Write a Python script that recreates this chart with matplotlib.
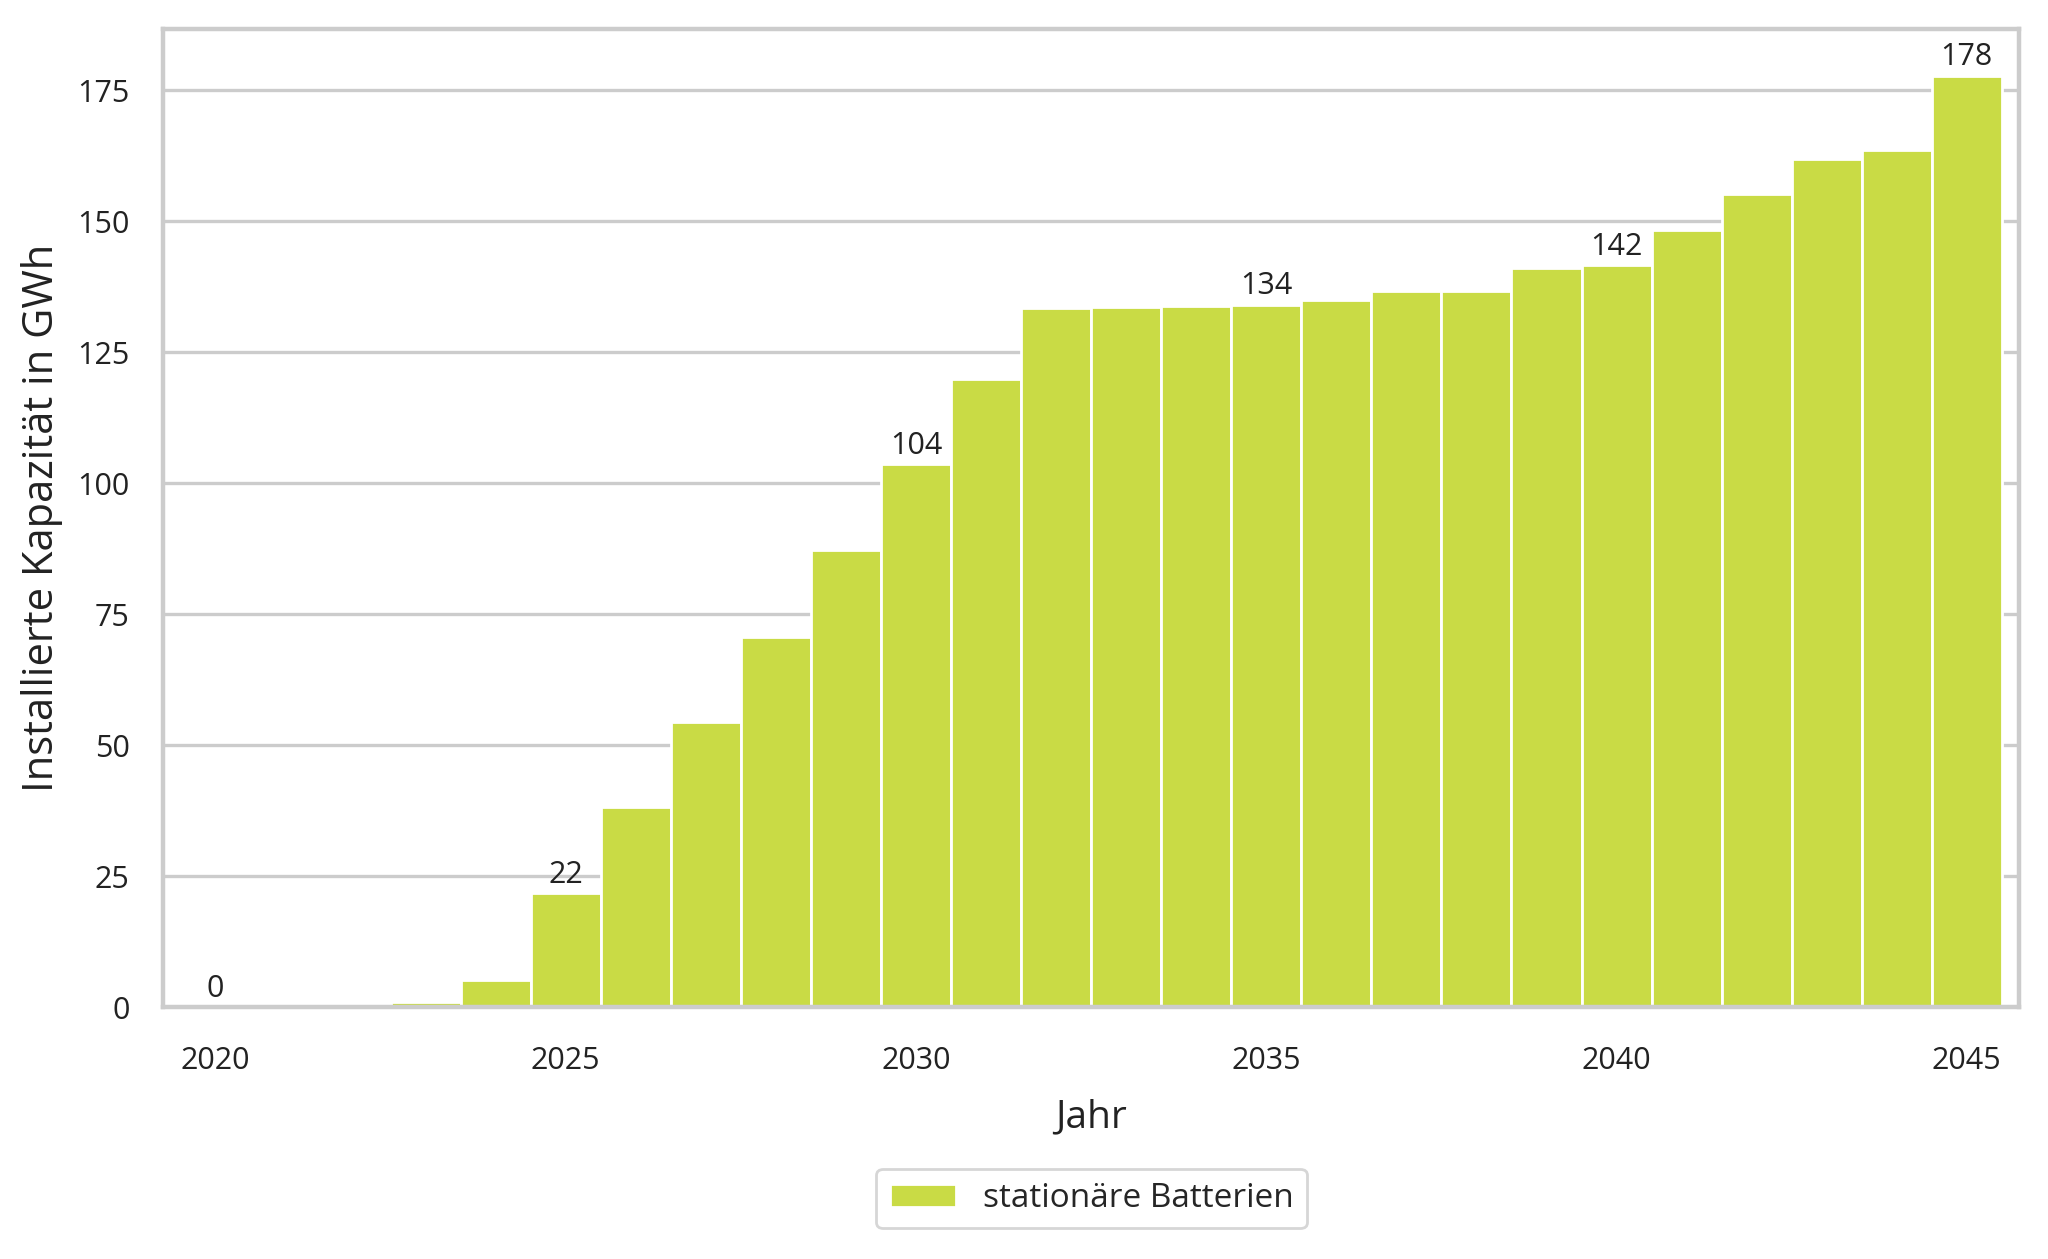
import numpy as np
import matplotlib
matplotlib.use("Agg")
import matplotlib.pyplot as plt
import seaborn as sns

years = list(range(2020, 2046))
capacity = [0, 0, 0, 1.0, 5.2, 21.8, 38.2, 54.4, 70.7, 87.2, 103.6, 119.9, 133.4, 133.6, 133.9,
            134.1, 134.9, 136.6, 136.6, 141.1, 141.6, 148.4, 155.1, 161.8, 163.6, 177.8]
labeled_years = [2020, 2025, 2030, 2035, 2040, 2045]
series_name = "stationäre Batterien"

sns.set_theme(style="whitegrid")
plt.rcParams['font.family'] = ['Open Sans', 'DejaVu Sans']

fig = plt.figure(figsize=(10.24, 6.295), dpi=200)
ax = fig.add_axes([0.0796, 0.200, 0.9064, 0.777])

bars = ax.bar(years, capacity, width=1.0, color='#c9db45', edgecolor='white', linewidth=1.0,
              label=series_name, zorder=2)

for y, v in zip(years, capacity):
    if y in labeled_years:
        ax.text(y, v + 0.6, f"{v:.0f}", ha='center', va='bottom', fontsize=11, color='#222222')

ax.set_xlim(2019.25, 2045.75)
ax.set_ylim(0, max(capacity) * 1.05)
ax.set_xticks(labeled_years)
ax.set_yticks([0, 25, 50, 75, 100, 125, 150, 175])
ax.tick_params(labelsize=11, colors='#222222', pad=6)
ax.tick_params(axis='x', pad=8)
ax.grid(axis='x', visible=False)
ax.grid(axis='y', color='#cccccc', linewidth=1.2, zorder=0)
ax.set_axisbelow(True)
for s in ax.spines.values():
    s.set_color('#cccccc')
    s.set_linewidth(1.6)

ax.set_xlabel("Jahr", fontsize=14, color='#222222', labelpad=8)
ax.set_ylabel("Installierte Kapazität in GWh", fontsize=15, color='#222222', labelpad=5)

fig.legend(handles=[bars], labels=[series_name], loc='center', bbox_to_anchor=(0.533, 0.048),
           fontsize=12, frameon=True, edgecolor='#cccccc', fancybox=True, handlelength=2.0)

fig.savefig("out.png", dpi=200)
